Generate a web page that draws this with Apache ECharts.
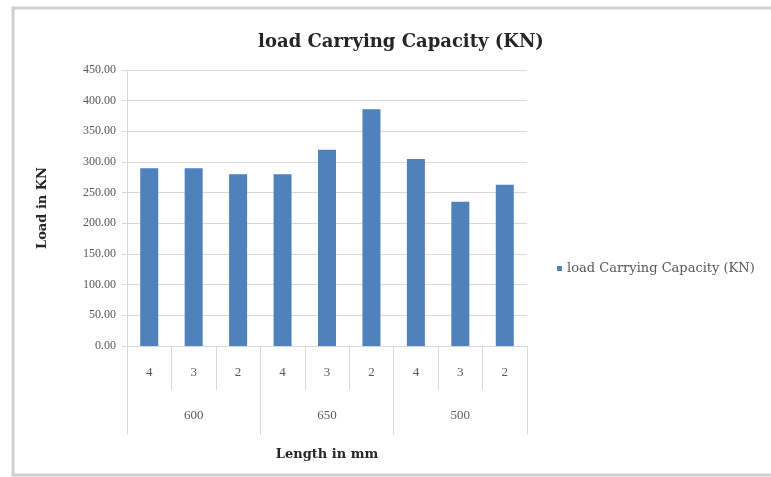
<!DOCTYPE html>
<html>
<head>
<meta charset="utf-8">
<title>load Carrying Capacity (KN)</title>
<script src="https://cdn.jsdelivr.net/npm/echarts@6/dist/echarts.min.js"></script>
<style>
  html, body { margin: 0; padding: 0; background: #ffffff; }
  #chart { width: 771px; height: 477px; }
</style>
</head>
<body>
<div id="chart"></div>
<script>
// Specimen number within each length group (inner axis row)
const specimens = ['4', '3', '2', '4', '3', '2', '4', '3', '2'];
// Length groups in mm (outer axis row)
const lengths = ['600', '650', '500'];
// Load carrying capacity for each specimen, kN
const capacity = [290, 290, 280, 280, 320, 386, 305, 235, 263];
// Value axis ticks
const yMin = 0, yMax = 450, yStep = 50;

const serif = '"Liberation Serif", "DejaVu Serif", serif';
const wideSerif = '"DejaVu Serif", "Liberation Serif", serif';
const labelGrey = '#595959';
const lineGrey = '#d9d9d9';

const chart = echarts.init(document.getElementById('chart'), null, { renderer: 'canvas' });

chart.setOption({
  backgroundColor: '#ffffff',
  animation: false,
  graphic: [{
    type: 'rect',
    shape: { x: 13, y: 8, width: 800, height: 467 },
    style: { fill: 'none', stroke: '#d0d0d0', lineWidth: 3 },
    silent: true
  }],
  title: {
    text: 'load Carrying Capacity (KN)',
    left: 396,
    textAlign: 'center',
    top: 28,
    textStyle: { fontFamily: wideSerif, fontWeight: 'bold', fontSize: 18, color: '#262626' }
  },
  legend: {
    left: 552,
    top: 257,
    icon: 'rect',
    itemWidth: 5,
    itemHeight: 5,
    itemGap: 4,
    textStyle: { fontFamily: wideSerif, fontSize: 13, color: labelGrey }
  },
  grid: { left: 127, right: 244, top: 70, bottom: 131, containLabel: false },
  xAxis: [{
    type: 'category',
    position: 'bottom',
    data: specimens,
    axisLine: { show: true, lineStyle: { color: lineGrey, width: 1 } },
    axisTick: { show: true, length: 44, interval: 0, alignWithLabel: false, lineStyle: { color: lineGrey } },
    axisLabel: { interval: 0, margin: 20, fontFamily: serif, fontSize: 13, color: labelGrey }
  }, {
    type: 'category',
    position: 'bottom',
    data: lengths,
    axisLine: { show: false },
    axisTick: { show: true, length: 89, interval: 0, lineStyle: { color: lineGrey } },
    axisLabel: { interval: 0, margin: 63, fontFamily: serif, fontSize: 13, color: labelGrey },
    name: 'Length in mm',
    nameLocation: 'middle',
    nameGap: 102,
    nameTextStyle: { fontFamily: wideSerif, fontWeight: 'bold', fontSize: 13, color: '#262626' }
  }],
  yAxis: {
    type: 'value',
    min: yMin,
    max: yMax,
    interval: yStep,
    axisLine: { show: true, lineStyle: { color: lineGrey } },
    axisTick: { show: true, length: 5, lineStyle: { color: lineGrey } },
    splitLine: { show: true, lineStyle: { color: lineGrey, width: 1 } },
    axisLabel: {
      margin: 11,
      fontFamily: serif,
      fontSize: 12,
      color: labelGrey,
      formatter: v => v.toFixed(2)
    },
    name: 'Load in KN',
    nameLocation: 'middle',
    nameGap: 78,
    nameRotate: 90,
    nameTextStyle: { fontFamily: wideSerif, fontWeight: 'bold', fontSize: 13, color: '#262626' }
  },
  series: [{
    name: 'load Carrying Capacity (KN)',
    type: 'bar',
    xAxisIndex: 0,
    data: capacity,
    barWidth: 18,
    itemStyle: { color: '#4f81bd' }
  }]
});
</script>
</body>
</html>
